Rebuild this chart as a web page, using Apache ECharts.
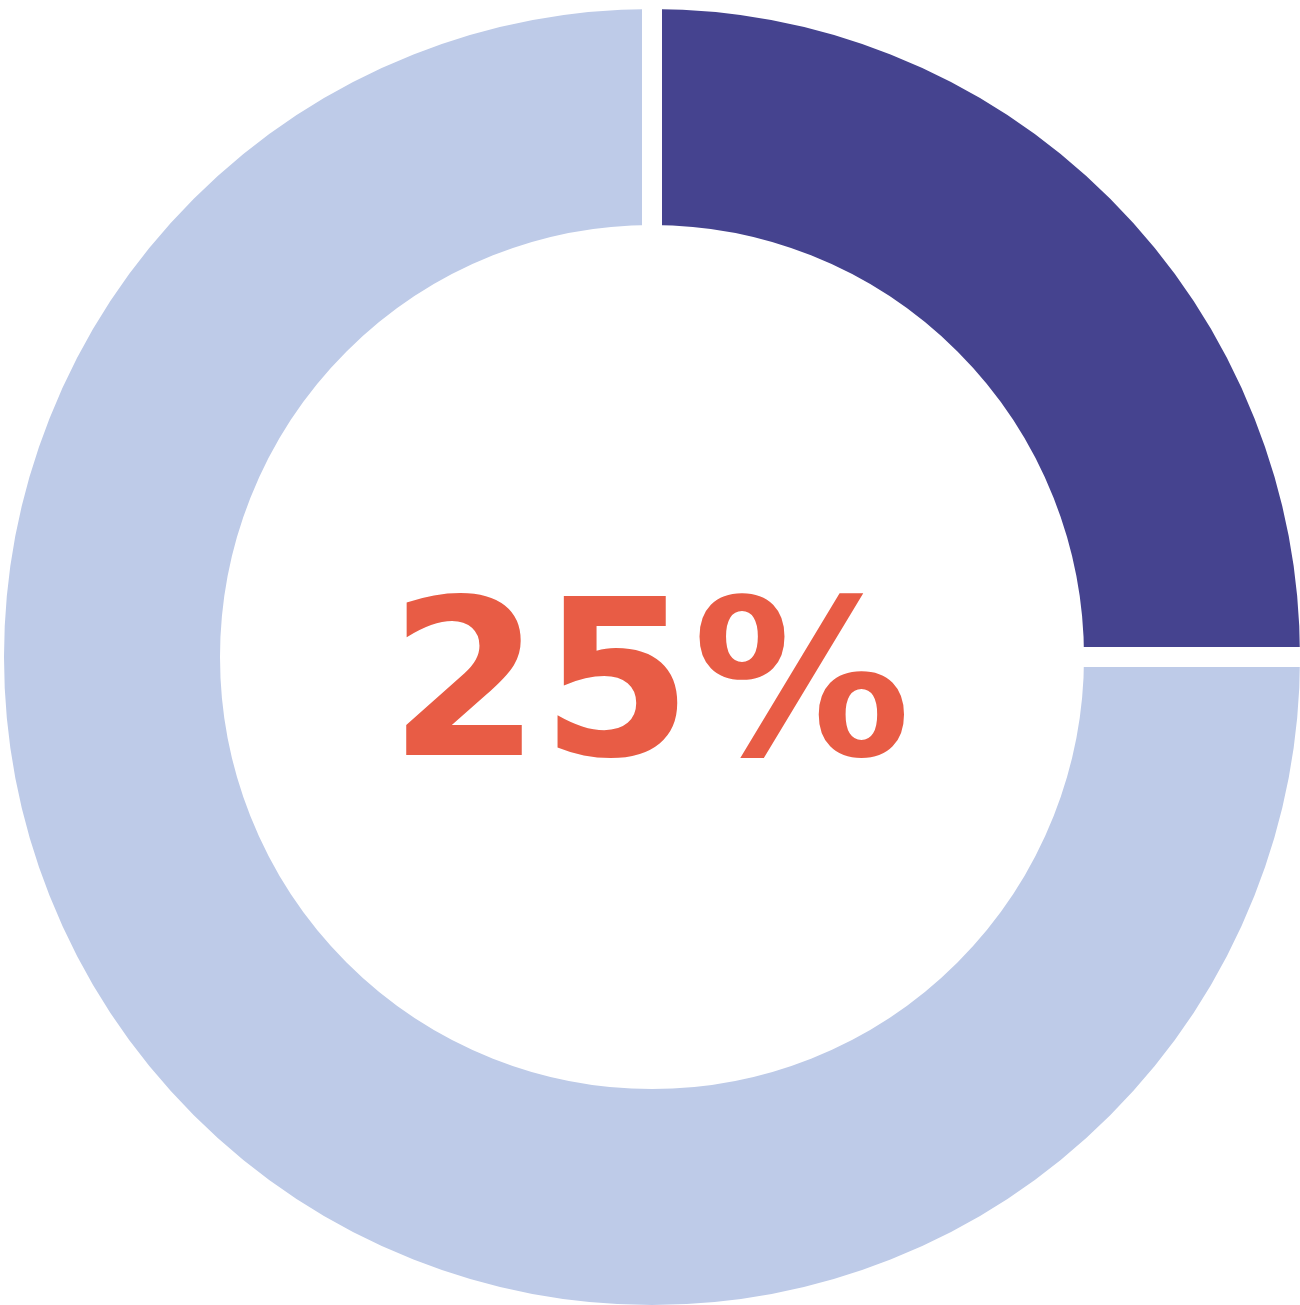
<!DOCTYPE html>
<html>
<head>
<meta charset="utf-8">
<script src="https://cdn.jsdelivr.net/npm/echarts@6/dist/echarts.min.js"></script>
<style>
html,body{margin:0;padding:0;background:#fff;}
#chart{width:1300px;height:1305px;}
</style>
</head>
<body>
<div id="chart"></div>
<script>
const categories = ['Share', 'Rest'];
const values = [25, 75];
const colors = ['#45438F', '#BECBE8'];
const centerLabel = '25%';

const chart = echarts.init(document.getElementById('chart'), null, {renderer: 'canvas'});
chart.setOption({
  animation: false,
  backgroundColor: '#ffffff',
  series: [{
    type: 'pie',
    center: [652, 657],
    radius: [422, 658],
    startAngle: 90,
    clockwise: true,
    label: {show: false},
    labelLine: {show: false},
    emphasis: {disabled: true},
    itemStyle: {borderColor: '#ffffff', borderWidth: 20, borderJoin: 'miter'},
    data: categories.map((c, i) => ({name: c, value: values[i], itemStyle: {color: colors[i]}}))
  }],
  graphic: [{
    type: 'text',
    x: 650,
    y: 698,
    style: {
      text: centerLabel,
      fill: '#E85C45',
      font: 'bold 218px "DejaVu Sans"',
      align: 'center',
      verticalAlign: 'middle'
    }
  }]
});
</script>
</body>
</html>
